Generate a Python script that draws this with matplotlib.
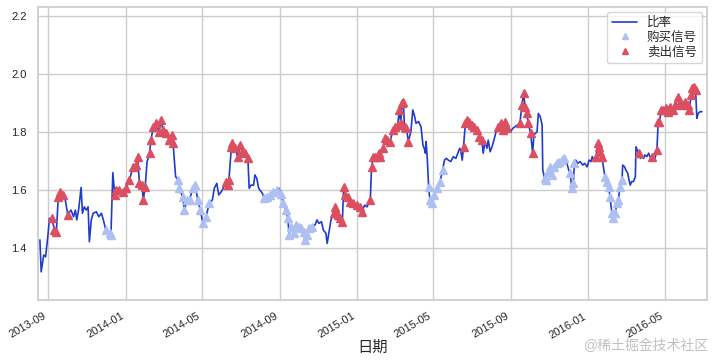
import pandas as pd
import numpy as np
import seaborn as sns
import matplotlib.pyplot as plt
import matplotlib.dates as mdates

# 比率序列：相对 2013-09-01 的天数 与 比率值
start = pd.Timestamp('2013-09-01')
days = [
    -13, -11, -7, -4, 0, 2, 6, 10, 13, 16,
    19, 23, 27, 31, 34, 36, 40, 43, 45, 48,
    52, 54, 57, 60, 63, 65, 68, 71, 76, 80,
    84, 87, 91, 97, 99, 102, 105, 107, 112, 118,
    123, 128, 134, 139, 141, 144, 148, 150, 153, 156,
    160, 162, 166, 170, 175, 178, 181, 186, 191, 196,
    197, 201, 205, 207, 212, 215, 219, 223, 228, 232,
    236, 240, 244, 249, 254, 259, 262, 266, 269, 273,
    276, 280, 283, 285, 289, 290, 295, 299, 303, 306,
    311, 315, 317, 320, 324, 326, 329, 332, 334, 338,
    341, 345, 350, 355, 361, 364, 367, 371, 375, 378,
    380, 383, 387, 391, 395, 399, 403, 405, 408, 411,
    416, 421, 424, 427, 431, 434, 438, 440, 443, 446,
    450, 453, 457, 460, 464, 466, 468, 473, 476, 481,
    487, 492, 495, 499, 503, 505, 508, 510, 513, 516,
    521, 524, 528, 531, 535, 539, 544, 547, 551, 554,
    556, 558, 560, 562, 565, 568, 572, 575, 578, 580,
    584, 588, 591, 593, 595, 596, 598, 600, 602, 605,
    609, 613, 618, 622, 625, 628, 631, 635, 639, 643,
    646, 649, 651, 653, 655, 658, 660, 664, 668, 672,
    676, 680, 684, 686, 689, 692, 694, 697, 700, 703,
    707, 710, 714, 717, 721, 723, 726, 729, 733, 736,
    740, 744, 747, 750, 752, 755, 757, 761, 764, 766,
    771, 773, 776, 779, 780, 783, 785, 788, 792, 795,
    798, 802, 806, 810, 814, 818, 821, 823, 826, 828,
    830, 832, 835, 839, 843, 846, 850, 853, 856, 858,
    862, 864, 867, 869, 871, 873, 876, 878, 881, 884,
    886, 889, 891, 894, 897, 899, 902, 905, 906, 909,
    911, 914, 916, 918, 920, 923, 926, 927, 929, 931,
    934, 936, 939, 941, 944, 947, 949, 953, 957, 960,
    962, 964, 967, 970, 974, 977, 981, 985, 989, 993,
    997, 1000, 1005, 1009, 1011, 1014, 1016, 1019, 1021, 1023,
    1025, 1028, 1031,
]
ratio = [
    1.428, 1.318, 1.376, 1.370, 1.451, 1.502, 1.502, 1.462, 1.456, 1.577,
    1.594, 1.583, 1.566, 1.514, 1.525, 1.531, 1.508, 1.531, 1.497, 1.531,
    1.609, 1.520, 1.542, 1.531, 1.542, 1.422, 1.497, 1.520, 1.525, 1.508,
    1.520, 1.497, 1.462, 1.451, 1.445, 1.660, 1.583, 1.600, 1.600, 1.594,
    1.606, 1.634, 1.680, 1.686, 1.715, 1.623, 1.617, 1.566, 1.611, 1.698,
    1.727, 1.772, 1.818, 1.830, 1.801, 1.841, 1.807, 1.795, 1.772, 1.790,
    1.761, 1.646, 1.634, 1.606, 1.577, 1.531, 1.566, 1.566, 1.606, 1.617,
    1.566, 1.531, 1.485, 1.508, 1.554, 1.566, 1.606, 1.623, 1.583, 1.594,
    1.606, 1.629, 1.617, 1.634, 1.749, 1.761, 1.744, 1.715, 1.755, 1.732,
    1.727, 1.709, 1.606, 1.617, 1.617, 1.652, 1.640, 1.606, 1.600, 1.588,
    1.571, 1.577, 1.583, 1.594, 1.600, 1.606, 1.588, 1.554, 1.531, 1.502,
    1.445, 1.474, 1.451, 1.480, 1.474, 1.468, 1.456, 1.428, 1.445, 1.468,
    1.474, 1.480, 1.497, 1.485, 1.491, 1.462, 1.451, 1.416, 1.456, 1.497,
    1.520, 1.542, 1.514, 1.502, 1.491, 1.611, 1.583, 1.577, 1.560, 1.554,
    1.548, 1.542, 1.525, 1.548, 1.542, 1.554, 1.566, 1.680, 1.715, 1.715,
    1.727, 1.715, 1.744, 1.778, 1.772, 1.767, 1.807, 1.818, 1.824, 1.876,
    1.830, 1.899, 1.905, 1.818, 1.813, 1.767, 1.801, 1.876, 1.853, 1.830,
    1.836, 1.818, 1.755, 1.744, 1.727, 1.767, 1.703, 1.611, 1.566, 1.554,
    1.583, 1.606, 1.629, 1.669, 1.703, 1.709, 1.703, 1.698, 1.715, 1.709,
    1.727, 1.744, 1.732, 1.703, 1.749, 1.830, 1.841, 1.836, 1.824, 1.818,
    1.807, 1.784, 1.772, 1.727, 1.767, 1.744, 1.772, 1.732, 1.749, 1.772,
    1.807, 1.818, 1.830, 1.807, 1.836, 1.813, 1.818, 1.801, 1.813, 1.818,
    1.824, 1.830, 1.893, 1.933, 1.887, 1.864, 1.830, 1.795, 1.727, 1.790,
    1.801, 1.864, 1.853, 1.824, 1.669, 1.640, 1.634, 1.663, 1.680, 1.652,
    1.680, 1.692, 1.698, 1.703, 1.709, 1.692, 1.669, 1.658, 1.606, 1.623,
    1.692, 1.703, 1.692, 1.698, 1.686, 1.692, 1.680, 1.703, 1.698, 1.715,
    1.698, 1.715, 1.761, 1.749, 1.732, 1.715, 1.675, 1.646, 1.629, 1.611,
    1.577, 1.520, 1.502, 1.520, 1.554, 1.566, 1.611, 1.634, 1.686, 1.680,
    1.669, 1.658, 1.634, 1.617, 1.629, 1.629, 1.646, 1.749, 1.738, 1.727,
    1.709, 1.715, 1.709, 1.721, 1.715, 1.727, 1.715, 1.715, 1.709, 1.738,
    1.836, 1.836, 1.876, 1.876, 1.882, 1.870, 1.887, 1.876, 1.893, 1.922,
    1.905, 1.893, 1.905, 1.893, 1.876, 1.928, 1.951, 1.956, 1.945, 1.847,
    1.864, 1.870, 1.870,
]

# 信号区间（天数范围）
buy_ranges = [(91, 99), (205, 256), (341, 361), (367, 416), (600, 622),
              (781, 814), (823, 830), (878, 905)]
sell_ranges = [(6, 13), (16, 23), (31, 31), (105, 153), (158, 197), (280, 315),
               (450, 495), (508, 568), (655, 684), (710, 723), (744, 764),
               (864, 873), (931, 931), (953, 953), (960, 1021)]

tick_months = [1, 5, 9]

sns.set_theme(style='whitegrid')
plt.rcParams['font.family'] = ['Liberation Sans', 'Noto Sans CJK SC', 'DejaVu Sans']

df = pd.DataFrame({'ratio': ratio},
                  index=start + pd.to_timedelta(days, unit='D'))
d = np.array(days)


def in_ranges(ranges):
    mask = np.zeros(len(d), dtype=bool)
    for a, b in ranges:
        mask |= (d >= a) & (d <= b)
    return mask


buy = df[in_ranges(buy_ranges)]
sell = df[in_ranges(sell_ranges)]

fig = plt.figure(figsize=(7.13, 3.6), dpi=100)
ax = fig.add_axes([0.0533, 0.1667, 0.9383, 0.814])

ax.plot(df.index, df['ratio'], color='#1f3ccc', lw=1.2, label='比率')
ax.plot(buy.index, buy['ratio'], '^', color='#aec0f2', ms=6, label='购买信号')
ax.plot(sell.index, sell['ratio'], '^', color='#dc4f61', ms=6, label='卖出信号')

ax.set_xlim(start + pd.Timedelta(days=-16), start + pd.Timedelta(days=1039))
ax.set_ylim(1.221, 2.231)
ax.set_yticks([1.4, 1.6, 1.8, 2.0, 2.2])
ax.xaxis.set_major_locator(mdates.MonthLocator(bymonth=tick_months))
ax.xaxis.set_major_formatter(mdates.DateFormatter('%Y-%m'))
ax.tick_params(axis='both', labelsize=8, pad=2)
for lab in ax.get_xticklabels():
    lab.set_rotation(30)
    lab.set_ha('right')

ax.set_xlabel('日期', fontsize=11, labelpad=0)
ax.legend(loc='upper right', fontsize=9, frameon=True, handlelength=2,
          borderaxespad=0.4, labelspacing=0.2, markerscale=0.7)

fig.text(0.995, 0.02, '@稀土掘金技术社区', ha='right', va='bottom',
         fontsize=10, color='#c0c0c0')

fig.savefig('out.png', dpi=100)
